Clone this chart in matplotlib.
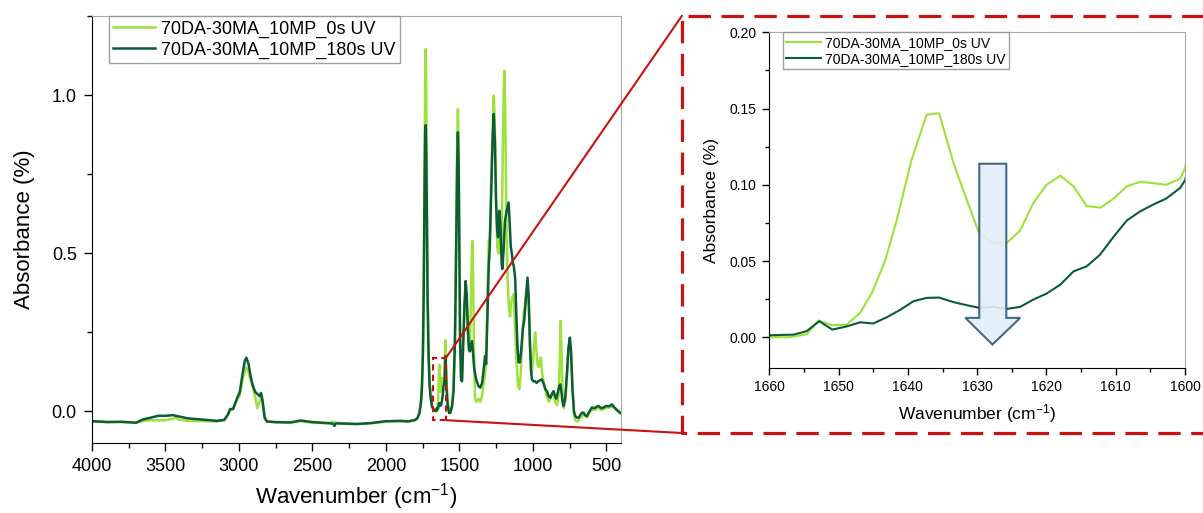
import numpy as np
import matplotlib
matplotlib.use('Agg')
from matplotlib import pyplot as plt
from matplotlib.patches import Rectangle, Polygon, ConnectionPatch
from matplotlib.lines import Line2D
from matplotlib.ticker import MultipleLocator, FormatStrFormatter

plt.rcParams['font.family'] = ['Liberation Sans', 'DejaVu Sans']
plt.rcParams['mathtext.default'] = 'regular'

label_0s = '70DA-30MA_10MP_0s UV'
label_180s = '70DA-30MA_10MP_180s UV'

# 0s UV spectrum (wavenumber, absorbance)
wn_0s = [4000, 3900, 3800, 3700, 3650, 3600, 3550, 3500, 3450, 3430, 3410, 3350, 3250, 3150,
         3100, 3075, 3060, 3040, 3010, 2995, 2975, 2960, 2950, 2935, 2920, 2905, 2890, 2875,
         2860, 2850, 2840, 2825, 2810, 2750, 2650, 2580, 2500, 2400, 2360, 2340, 2200, 2100,
         2000, 1950, 1900, 1850, 1800, 1785, 1772, 1762, 1755, 1748, 1742, 1737, 1733, 1729,
         1725, 1721, 1716, 1710, 1703, 1695, 1686, 1675, 1665,
         1660, 1657, 1654.6, 1652.9, 1651, 1648.9, 1646.9, 1645.2, 1643.3, 1641.6, 1639.5,
         1637.3, 1635.5, 1633.4, 1631.5, 1629.7, 1627.7, 1625.7, 1623.8, 1621.9, 1620, 1618,
         1616.1, 1614.2, 1612.2, 1610.3, 1608.4, 1606.4, 1604.6, 1602.7, 1600.7, 1600,
         1598, 1596, 1593, 1588, 1580, 1570, 1562, 1550, 1540, 1530, 1522, 1515, 1510, 1505,
         1500, 1495, 1488, 1482, 1475, 1465, 1457, 1450, 1442, 1435, 1428, 1420, 1414, 1411,
         1407, 1400, 1393, 1385, 1370, 1358, 1345, 1335, 1325, 1318, 1310, 1300, 1293, 1285,
         1275, 1266, 1258, 1250, 1242, 1235, 1228, 1220, 1212, 1205, 1198, 1193, 1188, 1180,
         1172, 1163, 1155, 1148, 1140, 1130, 1120, 1110, 1100, 1092, 1082, 1070, 1063, 1055,
         1045, 1036, 1028, 1018, 1010, 1000, 990, 984, 977, 968, 961, 953, 945, 937, 925, 912,
         900, 890, 875, 860, 848, 835, 825, 817, 811, 805, 798, 790, 780, 768, 758, 748, 740,
         730, 720, 710, 695, 680, 665, 650, 632, 615, 598, 575, 553, 535, 519, 500, 480, 461,
         440, 420, 405]
abs_0s = [-0.031, -0.033, -0.034, -0.035, -0.030, -0.028, -0.029, -0.028, -0.024, -0.020, -0.026,
          -0.030, -0.031, -0.032, -0.028, -0.010, 0.005, 0.006, 0.040, 0.050, 0.100, 0.130, 0.138,
          0.125, 0.095, 0.080, 0.045, 0.010, 0.030, 0.045, 0.030, -0.020, -0.032, -0.035, -0.036,
          -0.031, -0.036, -0.038, -0.034, -0.036, -0.040, -0.038, -0.033, -0.030, -0.032, -0.032,
          -0.028, -0.022, -0.005, 0.03, 0.08, 0.20, 0.45, 0.78, 1.02, 1.146, 1.00, 0.72, 0.42,
          0.22, 0.10, 0.045, 0.015, 0.005, 0.001,
          0.000, 0.000, 0.002, 0.011, 0.008, 0.008, 0.016, 0.029, 0.050, 0.077, 0.116, 0.146,
          0.147, 0.114, 0.090, 0.068, 0.062, 0.062, 0.070, 0.088, 0.100, 0.106, 0.099, 0.086,
          0.085, 0.091, 0.099, 0.102, 0.101, 0.100, 0.104, 0.111,
          0.16, 0.225, 0.20, 0.10, 0.035, 0.005, -0.003, 0.02, 0.08, 0.25, 0.55, 0.85, 0.956,
          0.85, 0.55, 0.25, 0.10, 0.10, 0.20, 0.33, 0.39, 0.35, 0.25, 0.19, 0.22, 0.38, 0.52,
          0.539, 0.45, 0.18, 0.04, 0.03, 0.04, 0.03, 0.05, 0.09, 0.12, 0.15, 0.35, 0.54, 0.55,
          0.70, 0.88, 0.998, 0.90, 0.65, 0.52, 0.50, 0.56, 0.50, 0.55, 0.80, 1.02, 1.077, 0.95,
          0.62, 0.42, 0.33, 0.30, 0.34, 0.36, 0.37, 0.25, 0.15, 0.08, 0.07, 0.12, 0.25, 0.31,
          0.33, 0.38, 0.41, 0.34, 0.18, 0.12, 0.15, 0.22, 0.249, 0.20, 0.15, 0.14, 0.16, 0.17,
          0.12, 0.09, 0.06, 0.04, 0.03, 0.05, 0.06, 0.03, 0.02, 0.05, 0.15, 0.286, 0.20, 0.05,
          0.01, 0.03, 0.10, 0.18, 0.223, 0.18, 0.07, -0.01, -0.030, -0.032, -0.022, -0.015,
          -0.010, -0.020, -0.005, 0.005, 0.005, 0.012, 0.005, 0.007, 0.012, 0.012, 0.015, 0.010,
          0.0, -0.008]

# 180s UV spectrum
wn_180s = [4000, 3900, 3800, 3700, 3650, 3600, 3550, 3500, 3450, 3420, 3350, 3250, 3150, 3100,
           3075, 3060, 3040, 3010, 2995, 2975, 2960, 2950, 2935, 2920, 2905, 2890, 2875, 2860,
           2850, 2840, 2825, 2810, 2750, 2650, 2580, 2500, 2400, 2360, 2350, 2340, 2200, 2100,
           2000, 1950, 1900, 1850, 1800, 1785, 1772, 1762, 1755, 1748, 1742, 1737, 1733, 1729,
           1725, 1721, 1716, 1710, 1703, 1695, 1686, 1675, 1665,
           1660, 1656.5, 1654.6, 1652.8, 1650.9, 1648.9, 1646.9, 1645, 1643.1, 1641.1, 1639.2,
           1637.3, 1635.5, 1633.4, 1631.5, 1629.6, 1627.7, 1625.7, 1623.8, 1621.9, 1620, 1618,
           1616.1, 1614.2, 1612.3, 1610.3, 1608.4, 1606.5, 1604.6, 1602.7, 1600.7, 1600,
           1598, 1596, 1593, 1588, 1580, 1570, 1562, 1550, 1540, 1530, 1522, 1515, 1510, 1505,
           1500, 1495, 1488, 1482, 1475, 1465, 1457, 1450, 1442, 1435, 1428, 1420, 1414, 1408,
           1400, 1393, 1385, 1370, 1358, 1345, 1335, 1325, 1318, 1310, 1300, 1293, 1285, 1275,
           1266, 1258, 1250, 1242, 1237, 1230, 1227, 1220, 1212, 1208, 1200, 1190, 1180, 1170,
           1165, 1158, 1150, 1143, 1136, 1130, 1120, 1112, 1104, 1097, 1088, 1078, 1068, 1058,
           1048, 1036, 1028, 1020, 1012, 1006, 995, 984, 975, 960, 945, 938, 925, 915, 904, 890,
           880, 870, 859, 850, 841, 830, 820, 813, 805, 798, 791, 780, 768, 758, 748, 740, 730,
           720, 711, 700, 688, 675, 665, 655, 645, 632, 615, 598, 580, 565, 553, 535, 519, 500,
           480, 461, 450, 430, 405]
abs_180s = [-0.031, -0.034, -0.033, -0.036, -0.025, -0.020, -0.014, -0.014, -0.012, -0.015,
            -0.022, -0.026, -0.030, -0.027, -0.010, 0.007, 0.008, 0.045, 0.060, 0.120, 0.160,
            0.170, 0.150, 0.110, 0.080, 0.062, 0.055, 0.048, 0.058, 0.035, -0.020, -0.032,
            -0.034, -0.035, -0.029, -0.034, -0.037, -0.039, -0.046, -0.038, -0.040, -0.037,
            -0.031, -0.031, -0.030, -0.032, -0.027, -0.021, -0.006, 0.025, 0.07, 0.18, 0.40,
            0.70, 0.88, 0.905, 0.80, 0.58, 0.34, 0.18, 0.085, 0.04, 0.015, 0.006, 0.002,
            0.0013, 0.0017, 0.004, 0.0105, 0.005, 0.007, 0.0098, 0.009, 0.013, 0.018, 0.0236,
            0.0258, 0.026, 0.023, 0.021, 0.0192, 0.020, 0.0186, 0.0199, 0.0247, 0.0286, 0.0345,
            0.0432, 0.0465, 0.054, 0.066, 0.0766, 0.0825, 0.087, 0.091, 0.098, 0.103,
            0.14, 0.175, 0.16, 0.08, 0.02, -0.005, -0.005, 0.015, 0.06, 0.22, 0.50, 0.78, 0.882,
            0.78, 0.50, 0.22, 0.10, 0.095, 0.20, 0.34, 0.412, 0.37, 0.26, 0.20, 0.19, 0.21,
            0.222, 0.19, 0.14, 0.12, 0.10, 0.08, 0.075, 0.09, 0.13, 0.175, 0.15, 0.28, 0.46,
            0.52, 0.66, 0.84, 0.94, 0.85, 0.66, 0.57, 0.55, 0.62, 0.634, 0.58, 0.47, 0.45, 0.50,
            0.60, 0.63, 0.65, 0.66, 0.60, 0.52, 0.50, 0.47, 0.46, 0.42, 0.30, 0.20, 0.155, 0.155,
            0.20, 0.26, 0.29, 0.35, 0.423, 0.36, 0.22, 0.13, 0.101, 0.095, 0.095, 0.090, 0.096,
            0.100, 0.101, 0.085, 0.07, 0.064, 0.046, 0.043, 0.055, 0.064, 0.05, 0.040, 0.06,
            0.08, 0.085, 0.06, 0.03, 0.017, 0.04, 0.12, 0.20, 0.233, 0.19, 0.07, 0.0, -0.015,
            -0.020, -0.020, -0.010, -0.004, -0.004, -0.012, -0.015, 0.000, 0.012, 0.010, 0.015,
            0.017, 0.010, 0.012, 0.017, 0.016, 0.022, 0.015, 0.005, -0.004]

c_0s = '#9de23a'
c_180s = '#0b5c37'
red = '#cc1111'

fig = plt.figure(figsize=(12.03, 5.13), dpi=100)

# main spectrum
ax = fig.add_axes([0.0765, 0.1365, 0.4397, 0.8323])
ax.plot(wn_0s, abs_0s, color=c_0s, lw=1.8, label=label_0s)
ax.plot(wn_180s, abs_180s, color=c_180s, lw=1.8, label=label_180s)
ax.set_xlim(4000, 400)
ax.set_ylim(-0.1, 1.25)
ax.xaxis.set_major_locator(MultipleLocator(500))
ax.xaxis.set_minor_locator(MultipleLocator(250))
ax.yaxis.set_major_locator(MultipleLocator(0.5))
ax.yaxis.set_minor_locator(MultipleLocator(0.25))
ax.yaxis.set_major_formatter(FormatStrFormatter('%.1f'))
ax.tick_params(which='major', direction='out', length=6, width=1, labelsize=13, pad=5)
ax.tick_params(which='minor', direction='out', length=3.5, width=1)
ax.set_xlabel('Wavenumber (cm$^{-1}$)', fontsize=16, labelpad=4)
ax.set_ylabel('Absorbance (%)', fontsize=16, labelpad=12)
for s in ['top', 'right']:
    ax.spines[s].set_color('#aaaaaa')
leg = ax.legend(loc='upper left', bbox_to_anchor=(0.032, 1.0), borderaxespad=0, fontsize=13,
                frameon=True, fancybox=False, edgecolor='#888888', handlelength=2.3,
                handletextpad=0.35, labelspacing=0.2, borderpad=0.25)
leg.get_frame().set_linewidth(1)

# zoom box on the main plot
ax.add_patch(Rectangle((1590, -0.028), 90, 0.198, fill=False, edgecolor=red, lw=1.5,
                       linestyle=(0, (3, 2)), zorder=5))

# inset
axi = fig.add_axes([0.6395, 0.2832, 0.3456, 0.6538])
axi.plot(wn_0s, abs_0s, color=c_0s, lw=1.5, label=label_0s)
axi.plot(wn_180s, abs_180s, color=c_180s, lw=1.5, label=label_180s)
axi.set_xlim(1660, 1600)
axi.set_ylim(-0.02, 0.20)
axi.xaxis.set_major_locator(MultipleLocator(10))
axi.xaxis.set_minor_locator(MultipleLocator(5))
axi.yaxis.set_major_locator(MultipleLocator(0.05))
axi.yaxis.set_minor_locator(MultipleLocator(0.025))
axi.yaxis.set_major_formatter(FormatStrFormatter('%.2f'))
axi.tick_params(which='major', direction='out', length=5, width=1, labelsize=10, pad=4)
axi.tick_params(which='minor', direction='out', length=3, width=1)
axi.set_xlabel('Wavenumber (cm$^{-1}$)', fontsize=12.5, labelpad=6)
axi.set_ylabel('Absorbance (%)', fontsize=12.5, labelpad=8)
for s in ['top', 'right']:
    axi.spines[s].set_color('#aaaaaa')
legi = axi.legend(loc='upper left', bbox_to_anchor=(0.032, 1.0), borderaxespad=0, fontsize=10,
                  frameon=True, fancybox=False, edgecolor='#888888', handlelength=2.5,
                  handletextpad=0.3, labelspacing=0.15, borderpad=0.25)
legi.get_frame().set_linewidth(1)

# down arrow in the inset
arrow = [(1629.7, 0.1138), (1625.8, 0.1138), (1625.8, 0.0127), (1623.8, 0.0127),
         (1627.8, -0.0048), (1631.7, 0.0127), (1629.7, 0.0127)]
axi.add_patch(Polygon(arrow, closed=True, facecolor='#e3eef9', edgecolor='#2e5a78', lw=1.5,
                      alpha=0.9, zorder=6))

# big red dashed frame (figure coordinates)
W, H = 1203.0, 513.0
fx0, fy_top, fy_bot = 682 / W, 1 - 15.7 / H, 1 - 433 / H
fig.add_artist(Line2D([1.01, fx0, fx0, 1.01], [fy_top, fy_top, fy_bot, fy_bot],
                      transform=fig.transFigure, color=red, lw=2.3,
                      linestyle=(0, (7, 3.3)), solid_capstyle='butt'))

# connecting lines
for ya, yb in [(0.17, fy_top), (-0.028, fy_bot)]:
    con = ConnectionPatch(xyA=(1590, ya), coordsA=ax.transData, xyB=(fx0, yb),
                          coordsB=fig.transFigure, color=red, lw=1.5)
    fig.add_artist(con)

plt.savefig('out.png', dpi=100)
